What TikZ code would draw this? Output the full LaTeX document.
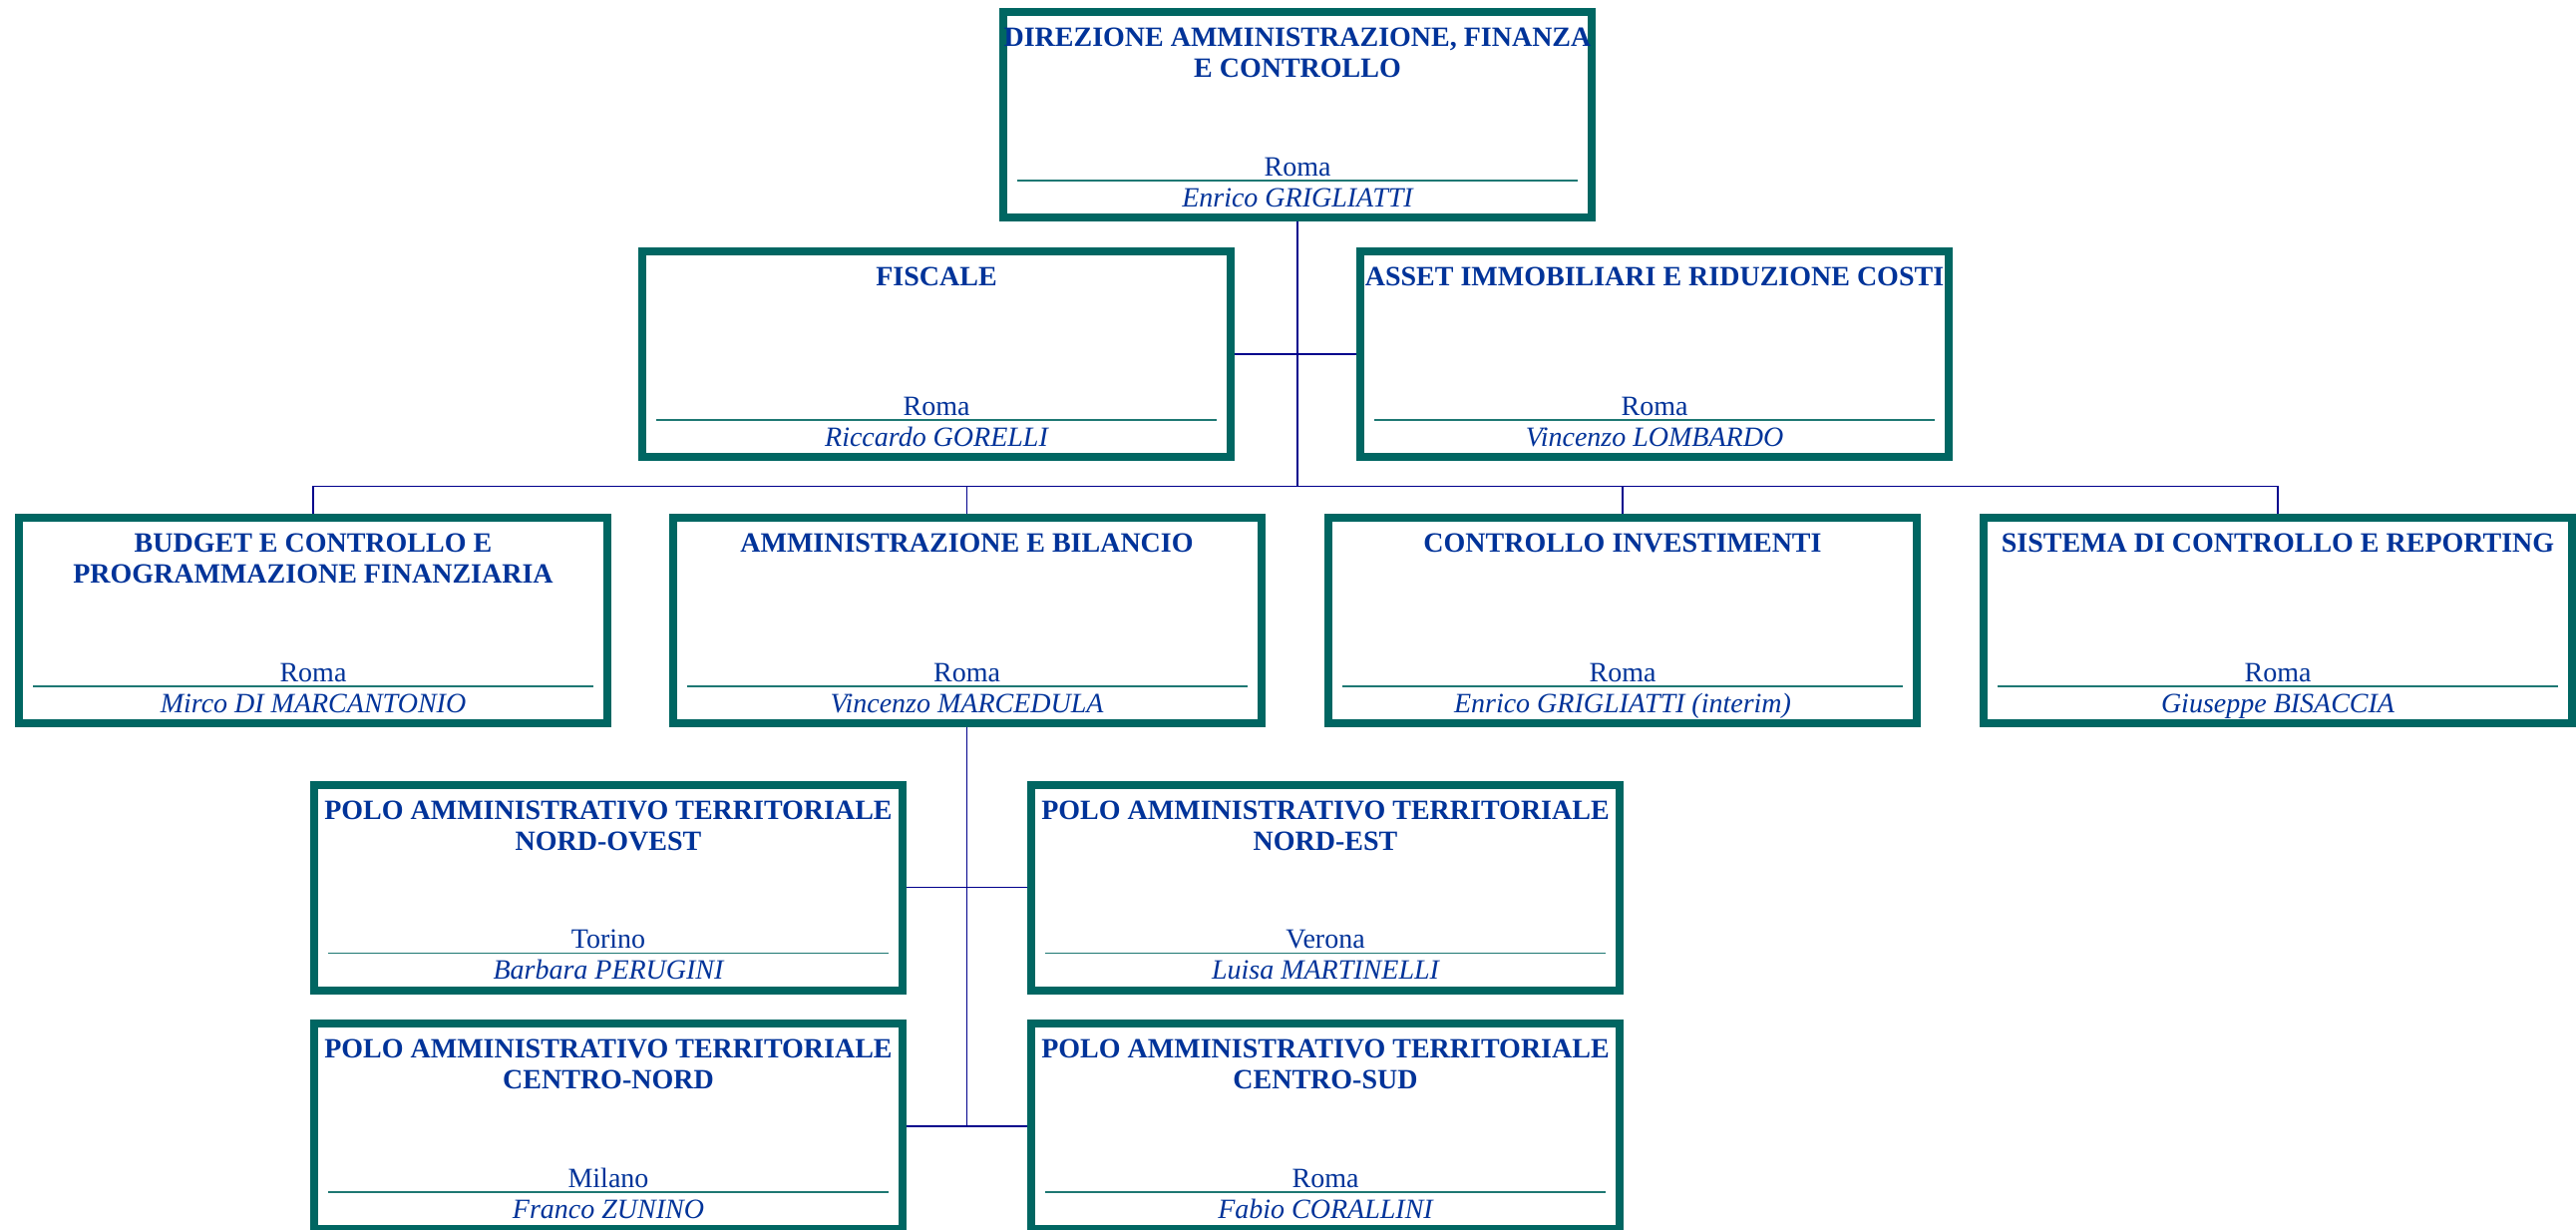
\documentclass[tikz,border=0pt]{standalone}
\usepackage{fontspec}
\setmainfont{Liberation Serif}
\definecolor{tealbox}{RGB}{0,102,98}
\definecolor{ublue}{RGB}{0,51,153}
\definecolor{navyline}{RGB}{0,0,140}
\definecolor{divteal}{RGB}{30,120,115}
\tikzset{
  obox/.style={draw=tealbox, line width=4pt, minimum width=295pt, minimum height=103pt, fill=white, inner sep=0pt},
  otitle/.style={anchor=north, inner sep=0pt, align=center, text=ublue, font=\bfseries\fontsize{14}{15.5}\selectfont},
  oplace/.style={anchor=base, inner sep=0pt, text=ublue, font=\fontsize{14}{16}\selectfont},
  oname/.style={anchor=base, inner sep=0pt, text=ublue, font=\itshape\fontsize{14}{16}\selectfont},
  odiv/.style={draw=divteal, line width=0.9pt},
  conn/.style={draw=navyline, line width=0.9pt}
}
\newcommand\orgbox[6]{%
  \node[obox] (#1) at (#2,#3) {};
  \node[otitle] (#1t) at ([yshift=-10pt]#1.north) {#4};
  \node[oplace] (#1p) at ([yshift=-84pt]#1.north) {#5};
  \draw[odiv] ([shift={(9pt,-86.5pt)}]#1.north west) -- ([shift={(-9pt,-86.5pt)}]#1.north east);
  \node[oname] (#1n) at ([yshift=-99.5pt]#1.north) {#6};
}
\begin{document}
\begin{tikzpicture}[x=0.5pt,y=-0.5pt]
\useasboundingbox (0,0) rectangle (2583,1232);
\orgbox{top}{1301}{115}{DIREZIONE AMMINISTRAZIONE, FINANZA\\E CONTROLLO}{Roma}{Enrico GRIGLIATTI}
\orgbox{fiscale}{939}{355}{FISCALE}{Roma}{Riccardo GORELLI}
\orgbox{asset}{1659}{355}{ASSET IMMOBILIARI E RIDUZIONE COSTI}{Roma}{Vincenzo LOMBARDO}
\orgbox{budget}{314}{622}{BUDGET E CONTROLLO E\\PROGRAMMAZIONE FINANZIARIA}{Roma}{Mirco DI MARCANTONIO}
\orgbox{ammin}{969.5}{622}{AMMINISTRAZIONE E BILANCIO}{Roma}{Vincenzo MARCEDULA}
\orgbox{ctrl}{1627}{622}{CONTROLLO INVESTIMENTI}{Roma}{Enrico GRIGLIATTI (interim)}
\orgbox{sistema}{2284}{622}{SISTEMA DI CONTROLLO E REPORTING}{Roma}{Giuseppe BISACCIA}
\orgbox{no}{610}{889.5}{POLO AMMINISTRATIVO TERRITORIALE\\NORD-OVEST}{Torino}{Barbara PERUGINI}
\orgbox{ne}{1329}{889.5}{POLO AMMINISTRATIVO TERRITORIALE\\NORD-EST}{Verona}{Luisa MARTINELLI}
\orgbox{cn}{610}{1129}{POLO AMMINISTRATIVO TERRITORIALE\\CENTRO-NORD}{Milano}{Franco ZUNINO}
\orgbox{cs}{1329}{1129}{POLO AMMINISTRATIVO TERRITORIALE\\CENTRO-SUD}{Roma}{Fabio CORALLINI}
\coordinate (bar) at (0,487.5);
\draw[conn] (top.south) -- (top.south |- bar);
\draw[conn] (budget.north) -- (budget.north |- bar) -- (sistema.north |- bar) -- (sistema.north);
\draw[conn] (ammin.north) -- (ammin.north |- bar);
\draw[conn] (ctrl.north) -- (ctrl.north |- bar);
\draw[conn] (fiscale.east) -- (asset.west);
\draw[conn] (ammin.south) -- (ammin.south |- cs.west);
\draw[conn] (no.east) -- (ne.west);
\draw[conn] (cn.east) -- (cs.west);
\end{tikzpicture}
\end{document}
